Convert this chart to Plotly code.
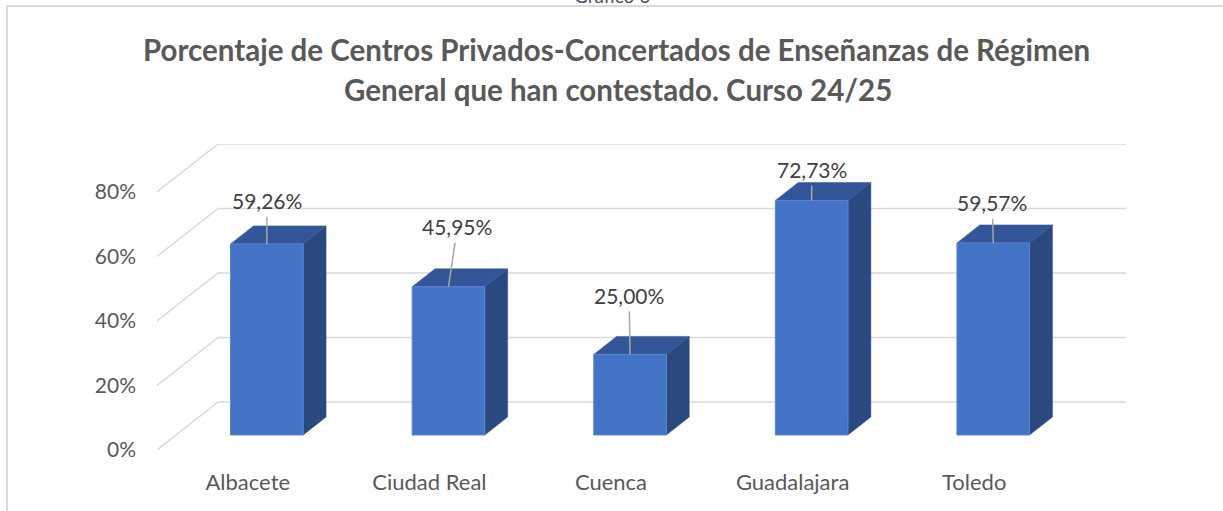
import plotly.graph_objects as go

# ---------------- data ----------------
categories = ["Albacete", "Ciudad Real", "Cuenca", "Guadalajara", "Toledo"]
values = [59.26, 45.95, 25.00, 72.73, 59.57]
y_ticks = [0, 20, 40, 60, 80]
title_lines = ["Porcentaje de Centros Privados-Concertados de Enseñanzas de Régimen",
               "General que han contestado. Curso 24/25"]
caption = "Gráfico 6"

# ---------------- style / layout ----------------
W_PX, H_PX = 1223, 511
L, R, T, B = 157, 97, 144, 61          # plot area margins (px)
DEPTH_PX = (61, 48)                     # oblique depth of the floor (px)
BAR_W = 0.4                             # bar width (category units)
D0, D1 = 0.3125, 0.6875                 # bar depth span (fraction of floor depth)
LABEL_OFF = [(0, -43), (9, -60), (-1, -59), (0, -31), (-1, -40)]  # label offsets (px)

FONT = "Lato"
GRID = "#D9D9D9"
FRONT, TOP, SIDE = "#4472C4", "#325698", "#2A4A7F"

plot_w = W_PX - L - R
plot_h = H_PX - T - B
n = len(categories)
x_unit = (plot_w - DEPTH_PX[0]) / n      # px per category
y_top_front = max(y_ticks)
y_unit = (plot_h - DEPTH_PX[1]) / y_top_front  # px per %
DX = DEPTH_PX[0] / x_unit
DY = DEPTH_PX[1] / y_unit
x_range = [-0.5, n - 0.5 + DX]
y_range = [0, y_top_front + DY]


def px_x(p):
    return (p - L) / plot_w


def px_y(p):
    return (H_PX - B - p) / plot_h


fig = go.Figure()

# walls: diagonals on the left side and back-wall gridlines
gx, gy = [], []
for t in y_ticks:
    gx += [-0.5, -0.5 + DX, n - 0.5 + DX, None]
    gy += [t, t + DY, t + DY, None]
fig.add_trace(go.Scatter(x=gx, y=gy, mode="lines", line=dict(color=GRID, width=1.5),
                         hoverinfo="skip", showlegend=False))

ddx = (D1 - D0) * DX
ddy = (D1 - D0) * DY
for i, v in enumerate(values):
    xl = i - BAR_W / 2 + D0 * DX
    xr = xl + BAR_W
    yb = D0 * DY
    yt = v + D0 * DY
    # side face
    fig.add_trace(go.Scatter(x=[xr, xr, xr + ddx, xr + ddx, xr], y=[yb, yt, yt + ddy, yb + ddy, yb],
                             mode="lines", fill="toself", fillcolor=SIDE,
                             line=dict(color=SIDE, width=0.5), hoverinfo="skip", showlegend=False))
    # top face
    fig.add_trace(go.Scatter(x=[xl, xr, xr + ddx, xl + ddx, xl], y=[yt, yt, yt + ddy, yt + ddy, yt],
                             mode="lines", fill="toself", fillcolor=TOP,
                             line=dict(color=TOP, width=0.5), hoverinfo="skip", showlegend=False))
    # front face
    fig.add_trace(go.Scatter(x=[xl, xr, xr, xl, xl], y=[yb, yb, yt, yt, yb],
                             mode="lines", fill="toself", fillcolor=FRONT,
                             line=dict(color="#5A86D2", width=1), hoverinfo="skip", showlegend=False))

annotations = []
for i, v in enumerate(values):
    txt = f"{v:.2f}".replace(".", ",") + "%"
    annotations.append(dict(
        x=i + D0 * DX, y=v + D0 * DY, xref="x", yref="y",
        text=txt, showarrow=True, arrowhead=0, arrowwidth=1.5, arrowcolor="#A6A6A6",
        ax=LABEL_OFF[i][0], ay=LABEL_OFF[i][1], startstandoff=2,
        font=dict(family=FONT, size=21, color="#404040")))

# title lines
annotations.append(dict(x=px_x(616), y=px_y(49), xref="paper", yref="paper",
                        text="<b>" + title_lines[0] + "</b>", showarrow=False,
                        xanchor="center", yanchor="middle",
                        font=dict(family=FONT, size=29.5, color="#595959")))
annotations.append(dict(x=px_x(618), y=px_y(90), xref="paper", yref="paper",
                        text="<b>" + title_lines[1] + "</b>", showarrow=False,
                        xanchor="center", yanchor="middle",
                        font=dict(family=FONT, size=29.5, color="#595959")))
# cut-off caption at the very top
annotations.append(dict(x=px_x(612), y=px_y(-5), xref="paper", yref="paper",
                        text=caption, showarrow=False, xanchor="center", yanchor="middle",
                        font=dict(family=FONT, size=19, color="#44546A")))

shapes = [
    dict(type="line", xref="paper", yref="paper", x0=px_x(7), x1=px_x(7), y0=px_y(6), y1=px_y(H_PX + 5),
         line=dict(color="#D9D9D9", width=2)),
    dict(type="line", xref="paper", yref="paper", x0=px_x(6), x1=px_x(W_PX + 5), y0=px_y(6), y1=px_y(6),
         line=dict(color="#D9D9D9", width=2)),
]

fig.update_layout(
    width=W_PX, height=H_PX,
    margin=dict(l=L, r=R, t=T, b=B, pad=0),
    paper_bgcolor="white", plot_bgcolor="white",
    showlegend=False,
    annotations=annotations, shapes=shapes,
    font=dict(family=FONT, color="#595959"),
    xaxis=dict(range=x_range, tickmode="array", tickvals=list(range(n)), ticktext=categories,
               showgrid=False, zeroline=False, showline=False, ticks="",
               ticklabelstandoff=17, tickfont=dict(family=FONT, size=22, color="#595959"),
               fixedrange=True),
    yaxis=dict(range=y_range, tickmode="array", tickvals=y_ticks,
               ticktext=[f"{t}%" for t in y_ticks],
               showgrid=False, zeroline=False, showline=False, ticks="",
               ticklabelstandoff=20, tickfont=dict(family=FONT, size=21, color="#595959"),
               fixedrange=True),
)

fig.write_html("out.html", config={"displayModeBar": False},
               post_script="document.body.style.margin='0';")
